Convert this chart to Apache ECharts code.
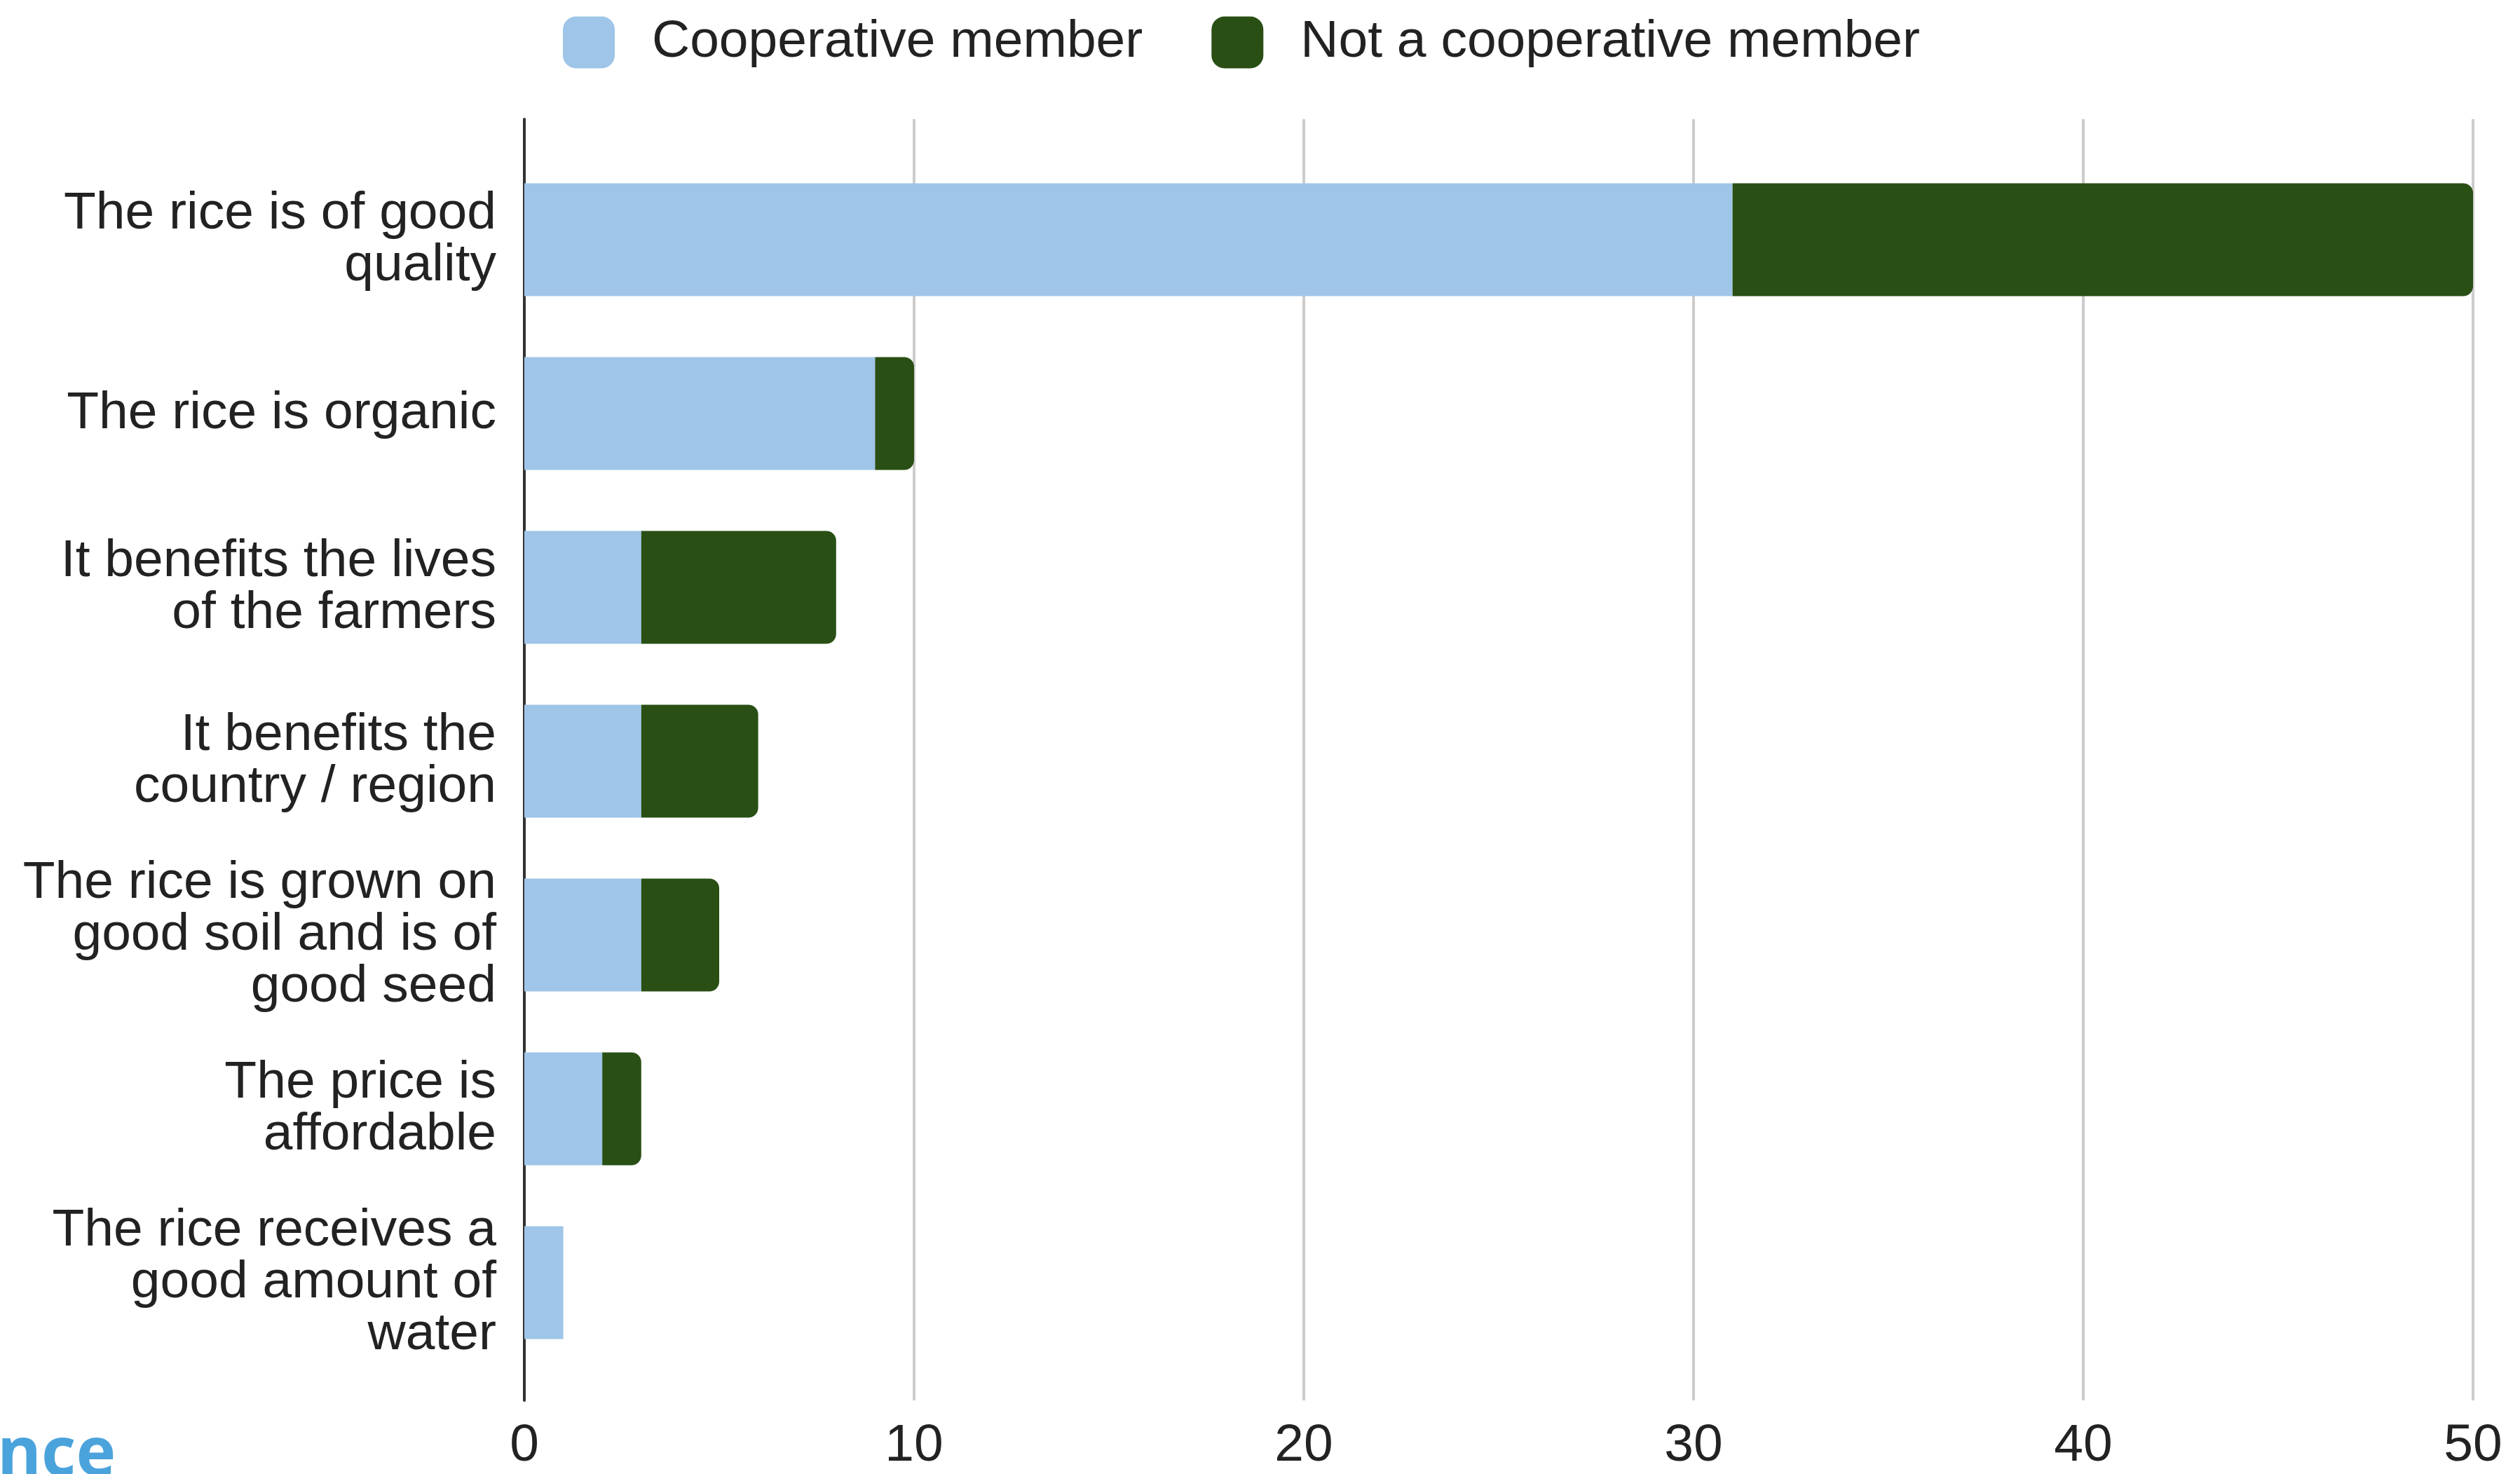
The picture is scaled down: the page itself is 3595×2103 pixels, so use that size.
<!DOCTYPE html>
<html>
<head>
<meta charset="utf-8">
<script src="https://cdn.jsdelivr.net/npm/echarts@6/dist/echarts.min.js"></script>
<style>
  html, body { margin: 0; padding: 0; background: #ffffff; }
  #chart { width: 3595px; height: 2103px; }
</style>
</head>
<body>
<div id="chart"></div>
<script>
const categories = [
  "The rice is of good\nquality",
  "The rice is organic",
  "It benefits the lives\nof the farmers",
  "It benefits the\ncountry / region",
  "The rice is grown on\ngood soil and is of\ngood seed",
  "The price is\naffordable",
  "The rice receives a\ngood amount of\nwater"
];
const seriesNames = ["Cooperative member", "Not a cooperative member"];
const cooperativeMember = [31, 9, 3, 3, 3, 2, 1];
const notCooperativeMember = [19, 1, 5, 3, 2, 1, 0];
const xTicks = [0, 10, 20, 30, 40, 50];

const FONT = "'Liberation Sans', Arial, sans-serif";
const chart = echarts.init(document.getElementById('chart'), null, { renderer: 'canvas' });

chart.setOption({
  backgroundColor: '#ffffff',
  animation: false,
  textStyle: { fontFamily: FONT },
  legend: {
    data: seriesNames,
    left: 798,
    top: 18,
    itemWidth: 74,
    itemHeight: 74,
    itemGap: 98,
    icon: 'roundRect',
    textStyle: { fontSize: 75, color: '#222222', fontFamily: FONT, padding: [0, 0, 0, 48] }
  },
  grid: [
    { left: 748, right: 67, top: 218, bottom: 149, containLabel: false },
    { left: 748, right: 67, top: 170, bottom: 105, containLabel: false }
  ],
  xAxis: [
    {
      gridIndex: 0, type: 'value', min: xTicks[0], max: xTicks[xTicks.length - 1], interval: 10,
      show: false
    },
    {
      gridIndex: 1, type: 'value', min: xTicks[0], max: xTicks[xTicks.length - 1], interval: 10,
      axisLine: { show: false },
      axisTick: { show: false },
      splitLine: { show: true, lineStyle: { color: '#cccccc', width: 4 } },
      axisLabel: { fontSize: 75, color: '#222222', margin: 28, fontFamily: FONT }
    }
  ],
  yAxis: [
    {
      gridIndex: 0, type: 'category', data: categories, inverse: true,
      axisLine: { show: false },
      axisTick: { show: false },
      splitLine: { show: false },
      axisLabel: { fontSize: 75, lineHeight: 74, color: '#222222', margin: 40, align: 'right', fontFamily: FONT }
    },
    {
      gridIndex: 1, type: 'value', min: 0, max: 1,
      axisLine: { show: true, onZero: false, lineStyle: { color: '#333333', width: 4 } },
      axisTick: { show: false },
      axisLabel: { show: false },
      splitLine: { show: false }
    }
  ],
  series: [
    {
      name: seriesNames[0], type: 'bar', stack: 'total',
      xAxisIndex: 0, yAxisIndex: 0,
      data: cooperativeMember,
      barWidth: 161,
      itemStyle: { color: '#9fc5e8' }
    },
    {
      name: seriesNames[1], type: 'bar', stack: 'total',
      xAxisIndex: 0, yAxisIndex: 0,
      data: notCooperativeMember,
      barWidth: 161,
      itemStyle: { color: '#294f15', borderRadius: [0, 14, 14, 0] }
    }
  ],
  graphic: [
    {
      type: 'text',
      left: -4,
      top: 2030,
      silent: true,
      style: {
        text: 'nce',
        font: "bold 96px 'Open Sans', sans-serif",
        fill: '#4ba3dc'
      }
    }
  ]
});
</script>
</body>
</html>
